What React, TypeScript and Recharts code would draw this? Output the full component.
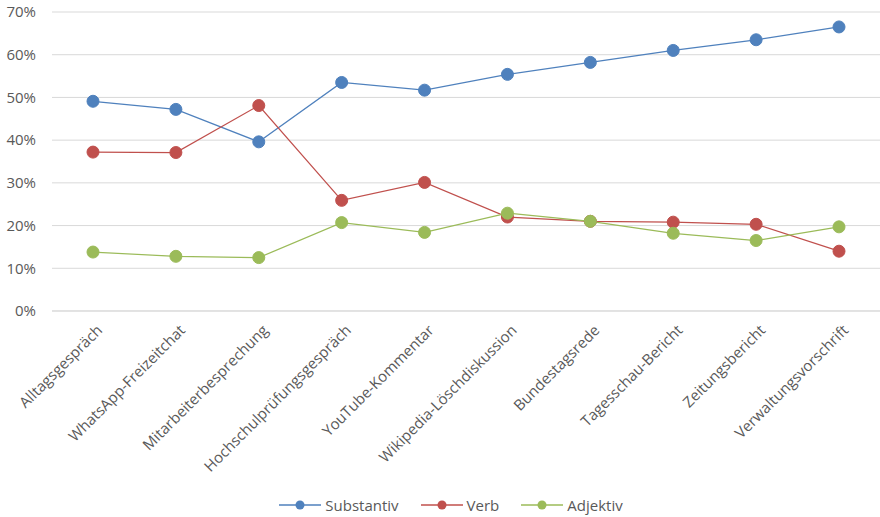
import { CartesianGrid, Legend, Line, LineChart, XAxis, YAxis } from "recharts";

const categories = [
  "Alltagsgespräch",
  "WhatsApp-Freizeitchat",
  "Mitarbeiterbesprechung",
  "Hochschulprüfungsgespräch",
  "YouTube-Kommentar",
  "Wikipedia-Löschdiskussion",
  "Bundestagsrede",
  "Tagesschau-Bericht",
  "Zeitungsbericht",
  "Verwaltungsvorschrift",
];

const substantiv = [49.1, 47.2, 39.6, 53.5, 51.7, 55.4, 58.2, 61.0, 63.5, 66.5];
const verb = [37.2, 37.1, 48.1, 25.9, 30.1, 22.0, 21.0, 20.8, 20.3, 14.0];
const adjektiv = [13.8, 12.8, 12.5, 20.7, 18.4, 22.9, 21.0, 18.2, 16.5, 19.7];

const yTicks = [0, 10, 20, 30, 40, 50, 60, 70];

const SERIES = [
  { key: "Substantiv", color: "#4F81BD" },
  { key: "Verb", color: "#C0504D" },
  { key: "Adjektiv", color: "#9BBB59" },
];

const FONT = "'Open Sans', sans-serif";
const TEXT = "#595959";

const data = categories.map((name, i) => ({
  name,
  Substantiv: substantiv[i],
  Verb: verb[i],
  Adjektiv: adjektiv[i],
}));

const AngledTick = ({ x, y, payload }: any) => (
  <g transform={`translate(${x + 6},${y + 8})`}>
    <text
      transform="rotate(-45)"
      textAnchor="end"
      dominantBaseline="central"
      fill={TEXT}
      fontSize={15}
      fontFamily={FONT}
    >
      {payload.value}
    </text>
  </g>
);

const LegendContent = () => (
  <div style={{ display: "flex", justifyContent: "center", marginLeft: 44 }}>
    {SERIES.map((s) => (
      <div
        key={s.key}
        style={{ display: "flex", alignItems: "center", marginRight: 22 }}
      >
        <svg width={44} height={14}>
          <line x1={0} y1={7} x2={42} y2={7} stroke={s.color} strokeWidth={1.5} />
          <circle cx={21} cy={7} r={4.5} fill={s.color} />
        </svg>
        <span style={{ color: TEXT, fontSize: 15, fontFamily: FONT, marginLeft: 2 }}>
          {s.key}
        </span>
      </div>
    ))}
  </div>
);

export default function App() {
  return (
    <div style={{ position: "absolute", left: 0, top: 0, background: "#fff" }}>
      <LineChart
        width={880}
        height={517}
        data={data}
        margin={{ top: 12, right: 0, bottom: 0, left: 0 }}
      >
        <CartesianGrid vertical={false} stroke="#D9D9D9" strokeWidth={1} />
        <XAxis
          dataKey="name"
          axisLine={{ stroke: "#D9D9D9" }}
          tickLine={false}
          interval={0}
          height={184}
          padding={{ left: 41, right: 41 }}
          tick={<AngledTick />}
        />
        <YAxis
          width={52}
          domain={[0, 70]}
          ticks={yTicks}
          axisLine={false}
          tickLine={false}
          tickFormatter={(v: number) => `${v}%`}
          tick={{ fill: TEXT, fontSize: 15, fontFamily: FONT, dx: -8 }}
        />
        <Legend verticalAlign="bottom" height={22} content={<LegendContent />} />
        {SERIES.map((s) => (
          <Line
            key={s.key}
            dataKey={s.key}
            stroke={s.color}
            strokeWidth={1.25}
            dot={{ r: 6, fill: s.color, stroke: s.color, strokeWidth: 1 }}
            activeDot={false}
            isAnimationActive={false}
          />
        ))}
      </LineChart>
    </div>
  );
}
